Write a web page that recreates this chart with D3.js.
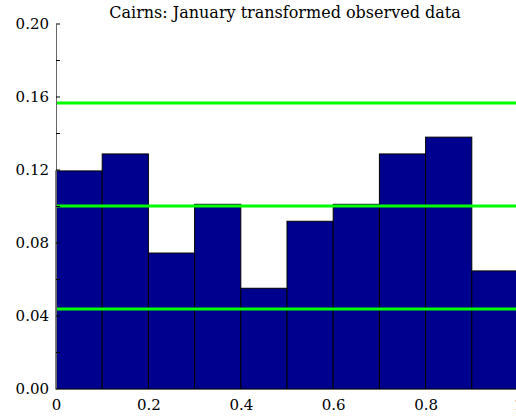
<!DOCTYPE html>
<html>
<head>
<meta charset="utf-8">
<script src="https://d3js.org/d3.v7.min.js"></script>
<style>
body { margin: 0; background: #fff; }
text { font-family: "DejaVu Serif", "Liberation Serif", serif; fill: #000; }
</style>
</head>
<body>
<svg id="chart"></svg>
<script>
// histogram bins (lower edges) and relative frequencies
var binStarts = [0, 0.1, 0.2, 0.3, 0.4, 0.5, 0.6, 0.7, 0.8, 0.9];
var binWidth = 0.1;
var freqs = [0.1195, 0.1288, 0.0745, 0.1012, 0.0552, 0.0919, 0.1012, 0.1288, 0.138, 0.0647];
// horizontal reference lines
var refLines = [0.1567, 0.1003, 0.0438];
var yTicks = [0, 0.04, 0.08, 0.12, 0.16, 0.20];
var yMinor = [0.02, 0.06, 0.10, 0.14, 0.18];
var xTicks = [0, 0.2, 0.4, 0.6, 0.8, 1];
var title = "Cairns: January transformed observed data";

var W = 516, H = 419;
var margin = {top: 24, right: -2, bottom: 30, left: 56};

var svg = d3.select("#chart").attr("width", W).attr("height", H);

var x = d3.scaleLinear().domain([0, 1]).range([margin.left, W - margin.right]);
var y = d3.scaleLinear().domain([0, 0.2]).range([H - margin.bottom, margin.top]);

// bars
svg.selectAll(".bar")
    .data(binStarts)
  .enter().append("rect")
    .attr("class", "bar")
    .attr("x", function(d) { return x(d); })
    .attr("width", function(d) { return x(d + binWidth) - x(d); })
    .attr("y", function(d, i) { return y(freqs[i]); })
    .attr("height", function(d, i) { return y(0) - y(freqs[i]); })
    .style("fill", "#00008f")
    .style("stroke", "#000")
    .style("stroke-width", 1);

// green lines
svg.selectAll(".ref")
    .data(refLines)
  .enter().append("line")
    .attr("x1", x(0)).attr("x2", x(1))
    .attr("y1", function(d) { return y(d); })
    .attr("y2", function(d) { return y(d); })
    .style("stroke", "#00ff00")
    .style("stroke-width", 3);

// axes
var yAxis = d3.axisLeft(y).tickValues(yTicks).tickSize(0).tickPadding(7)
    .tickFormat(d3.format(".2f"));
var gy = svg.append("g").attr("transform", "translate(" + x(0) + ",0)").call(yAxis);
gy.select(".domain").attr("stroke", "#666");
gy.selectAll("text").style("font-size", "15px").attr("font-family", null);

// inward ticks (major and minor)
svg.selectAll(".ytick")
    .data(yTicks.concat(yMinor))
  .enter().append("line")
    .attr("x1", x(0)).attr("x2", x(0) + 4)
    .attr("y1", function(d) { return y(d); })
    .attr("y2", function(d) { return y(d); })
    .style("stroke", "#000");

var xAxis = d3.axisBottom(x).tickValues(xTicks).tickSize(0).tickPadding(10)
    .tickFormat(function(d) { return d === 0 || d === 1 ? d3.format("d")(d) : d3.format(".1f")(d); });
var gx = svg.append("g").attr("transform", "translate(0," + y(0) + ")").call(xAxis);
gx.select(".domain").attr("stroke", "#666");
gx.selectAll("text").style("font-size", "15px").attr("font-family", null);

// title
svg.append("text")
    .attr("x", 285).attr("y", 18)
    .attr("text-anchor", "middle")
    .style("font-size", "16px")
    .text(title);
</script>
</body>
</html>
